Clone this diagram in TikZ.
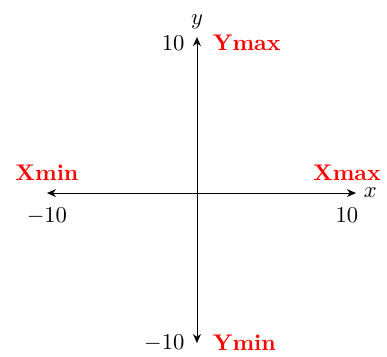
\documentclass[tikz,border=0pt]{standalone}
\usetikzlibrary{arrows.meta}
\begin{document}
\begin{tikzpicture}[x=0.233cm,y=0.233cm,
  axis/.style={{Stealth[length=4pt,width=3.5pt]}-{Stealth[length=4pt,width=3.5pt]},line width=0.4pt},
  lim/.style={text=red,font=\bfseries}]
\useasboundingbox (-13.13,-10.87) rectangle (12.67,12.87);
\coordinate (xl) at (-10,0);
\coordinate (xr) at (10.6,0);
\coordinate (yb) at (0,-10);
\coordinate (yt) at (0,10.4);
\coordinate (xm) at (-10,0);
\coordinate (xM) at (10,0);
\coordinate (ym) at (0,-10);
\coordinate (yM) at (0,10);
\draw[axis] (xl) -- (xr);
\draw[axis] (yb) -- (yt);
\node[right] (xlab) at (xr) {$x$};
\node[above] (ylab) at (yt) {$y$};
\node[below=3pt] (txm) at (xm) {$-10$};
\node[below=3pt] (txM) at (xM) {$10$};
\node[left=2pt] (tym) at (ym) {$-10$};
\node[left=2pt] (tyM) at (yM) {$10$};
\node[lim,above=2pt] (Xmin) at (xm) {Xmin};
\node[lim,above=2pt] (Xmax) at (xM) {Xmax};
\node[lim,right=3.5pt] (Ymin) at (ym) {Ymin};
\node[lim,right=3.5pt] (Ymax) at (yM) {Ymax};
\end{tikzpicture}
\end{document}
